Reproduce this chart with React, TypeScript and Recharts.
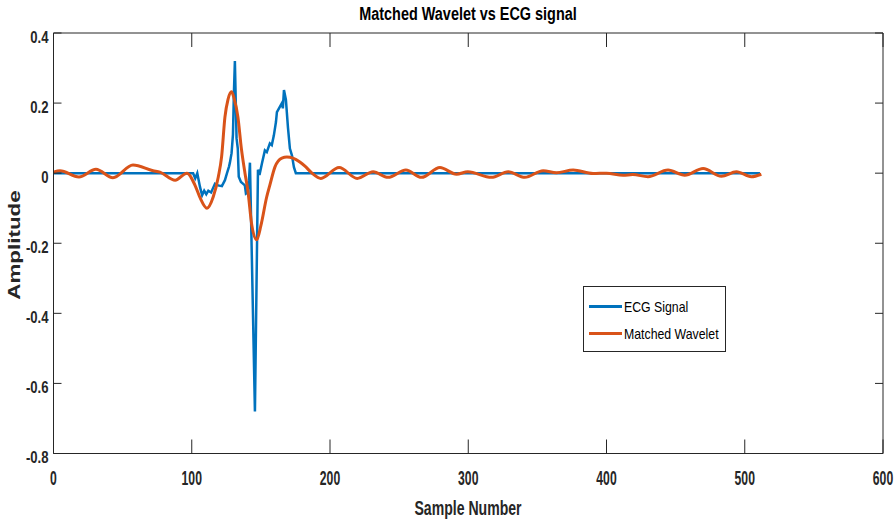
import { Legend, Line, LineChart, ReferenceLine, XAxis, YAxis } from 'recharts'

const ecgSamples = [
  0, 101, 102.5, 104, 106, 107.5, 109, 110.5, 112, 114, 116.8, 119, 121.8, 124, 125.5,
  126.9, 127.6, 128.8, 129.8, 130.5, 131.2, 132.4, 133.3, 134, 135.6, 137, 138.4, 139.2,
  140.3, 141.4, 142.1, 145.7, 147.9, 149, 150.8, 152.9, 154.3, 156.5, 157.9, 159.4, 160.9,
  161.6, 163.8, 165.2, 165.9, 166.7, 168.1, 169.6, 171, 172.5, 173.9, 175.3, 511,
]
const ecgAmp = [
  0, 0, -0.015, 0, -0.04, -0.063, -0.05, -0.06, -0.05, -0.055, -0.03, -0.035, -0.037, -0.02, 0.0,
  0.018, 0.03, 0.057, 0.11, 0.23, 0.32, 0.1, 0.07, -0.01, -0.025, -0.03, -0.035, -0.058,
  -0.055, -0.02, 0.03, -0.68, 0.01, -0.005, 0.028, 0.065, 0.06, 0.085, 0.08, 0.108, 0.146,
  0.174, 0.19, 0.2, 0.185, 0.237, 0.21, 0.13, 0.07, 0.05, 0.017, 0, 0,
]

const waveletSamples = [
  0, 4.7, 18.4, 30.7, 43, 57.5, 72, 77, 88, 96.5, 102.3, 106, 111, 115.5, 119.2,
  121.6, 124, 126.2, 128.8, 130.5, 133.4, 135.9, 138.5, 140.6, 143.5, 147, 150, 154.2,
  156.5, 160.2, 165.2, 168.8, 173.2, 178.2, 181.9, 187, 193.4, 206.6, 219.7, 231.2, 242,
  254.9, 266.2, 279.5, 291.5, 299.7, 316.8, 328.9, 340.9, 354.2, 363.8, 375.9, 390.3, 400,
  412, 419, 430, 444.5, 456.6, 469.9, 483.1, 494, 504.8, 512,
]
const waveletAmp = [
  0.003, 0.007, -0.011, 0.011, -0.013, 0.023, 0.007, 0.003, -0.02, 0.0, -0.034, -0.07, -0.1, -0.068, -0.011,
  0.047, 0.16, 0.21, 0.232, 0.215, 0.16, 0.07, 0.0, -0.05, -0.15, -0.19, -0.15, -0.068,
  -0.034, 0.018, 0.043, 0.046, 0.043, 0.032, 0.02, 0.0, -0.015, 0.016, -0.015, 0.004, -0.012,
  0.009, -0.012, 0.016, -0.003, 0.004, -0.012, 0.004, -0.012, 0.007, 0.001, 0.009, -0.001, 0,
  -0.006, -0.004, -0.01, 0.009, -0.006, 0.013, -0.009, 0.004, -0.01, -0.003,
]

const xTicks = [0, 100, 200, 300, 400, 500, 600]
const yTicks = [-0.8, -0.6, -0.4, -0.2, 0, 0.2, 0.4]

const ecgData = ecgSamples.map((x, i) => ({ x, y: ecgAmp[i] }))
const waveletData = waveletSamples.map((x, i) => ({ x, y: waveletAmp[i] }))

// no narrow font installed, so Liberation Sans gets squeezed with scaleX
const FONT = "'Liberation Sans', Arial, sans-serif"
const AXIS = '#262626'
const PLOT_TOP = 33
const PLOT_RIGHT = 883

// MATLAB style: ticks point inward, on all four sides
const XTick = (props: any) => {
  const { x, y, payload } = props
  return (
    <g>
      <line x1={x} y1={y} x2={x} y2={y - 14} stroke={AXIS} />
      <line x1={x} y1={PLOT_TOP} x2={x} y2={PLOT_TOP + 14} stroke={AXIS} />
      <text
        transform={`translate(${x},${y + 31}) scale(0.58,1)`}
        textAnchor='middle'
        fontFamily={FONT}
        fontWeight='bold'
        fontSize={21}
        fill={AXIS}
      >
        {payload.value}
      </text>
    </g>
  )
}

const YTick = (props: any) => {
  const { x, y, payload } = props
  return (
    <g>
      <line x1={x} y1={y} x2={x + 8} y2={y} stroke={AXIS} />
      <line x1={PLOT_RIGHT} y1={y} x2={PLOT_RIGHT - 8} y2={y} stroke={AXIS} />
      <text
        transform={`translate(${x - 5},${y + 9.5}) scale(0.82,1)`}
        textAnchor='end'
        fontFamily={FONT}
        fontWeight='bold'
        fontSize={16}
        fill={AXIS}
      >
        {String(payload.value)}
      </text>
    </g>
  )
}

const legendItems = [
  { name: 'ECG Signal', color: '#0072BD' },
  { name: 'Matched Wavelet', color: '#D95319' },
]

const LegendBox = () => (
  <div
    style={{
      border: `1px solid ${AXIS}`,
      background: '#fff',
      boxSizing: 'border-box',
      width: 143,
      height: 66,
      padding: '6px 0 0 5px',
      fontFamily: FONT,
      fontSize: 15,
      color: '#000',
    }}
  >
    {legendItems.map((it) => (
      <div key={it.name} style={{ display: 'flex', alignItems: 'center', height: 27, whiteSpace: 'nowrap' }}>
        <span style={{ display: 'inline-block', width: 33, height: 3, background: it.color, flex: 'none' }} />
        <span
          style={{
            marginLeft: 2,
            lineHeight: '27px',
            display: 'inline-block',
            transform: 'scaleX(0.82)',
            transformOrigin: 'left center',
          }}
        >
          {it.name}
        </span>
      </div>
    ))}
  </div>
)

export default function App() {
  return (
    <div style={{ position: 'absolute', left: 0, top: 0, width: 896, height: 524, background: '#fff' }}>
      <LineChart width={896} height={524} margin={{ top: PLOT_TOP, right: 13, bottom: 0, left: 0.5 }}>
        <XAxis
          xAxisId='b'
          dataKey='x'
          type='number'
          domain={[0, 600]}
          ticks={xTicks}
          height={70.5}
          stroke={AXIS}
          tickLine={false}
          tickSize={0}
          tickMargin={0}
          tick={<XTick />}
          label={{
            content: () => (
              <text
                transform='translate(468,515) scale(0.67,1)'
                textAnchor='middle'
                fontFamily={FONT}
                fontWeight='bold'
                fontSize={21}
                fill={AXIS}
              >
                Sample Number
              </text>
            ),
          }}
        />
        <YAxis
          yAxisId='l'
          type='number'
          domain={[-0.8, 0.4]}
          ticks={yTicks}
          width={53}
          stroke={AXIS}
          tickLine={false}
          tickSize={0}
          tickMargin={0}
          tick={<YTick />}
          label={{
            content: () => (
              <text
                transform='translate(20,245) rotate(-90) scale(1.4,1)'
                textAnchor='middle'
                fontFamily={FONT}
                fontWeight='bold'
                fontSize={16}
                fill={AXIS}
              >
                Amplitude
              </text>
            ),
          }}
        />
        <ReferenceLine
          xAxisId='b'
          yAxisId='l'
          y={0.4}
          stroke={AXIS}
          label={{
            content: () => (
              <text
                transform='translate(468,20) scale(0.76,1)'
                textAnchor='middle'
                fontFamily={FONT}
                fontWeight='bold'
                fontSize={19}
                fill='#000'
              >
                Matched Wavelet vs ECG signal
              </text>
            ),
          }}
        />
        <ReferenceLine xAxisId='b' yAxisId='l' x={600} stroke={AXIS} />
        <Legend
          layout='vertical'
          align='center'
          verticalAlign='middle'
          content={<LegendBox />}
          wrapperStyle={{ left: 583, top: 286, width: 143, height: 66 }}
        />
        <Line
          xAxisId='b'
          yAxisId='l'
          data={ecgData}
          dataKey='y'
          name='ECG Signal'
          type='linear'
          stroke='#0072BD'
          strokeWidth={2.5}
          dot={false}
          activeDot={false}
          isAnimationActive={false}
        />
        <Line
          xAxisId='b'
          yAxisId='l'
          data={waveletData}
          dataKey='y'
          name='Matched Wavelet'
          type='monotone'
          stroke='#D95319'
          strokeWidth={3}
          dot={false}
          activeDot={false}
          isAnimationActive={false}
        />
      </LineChart>
    </div>
  )
}
